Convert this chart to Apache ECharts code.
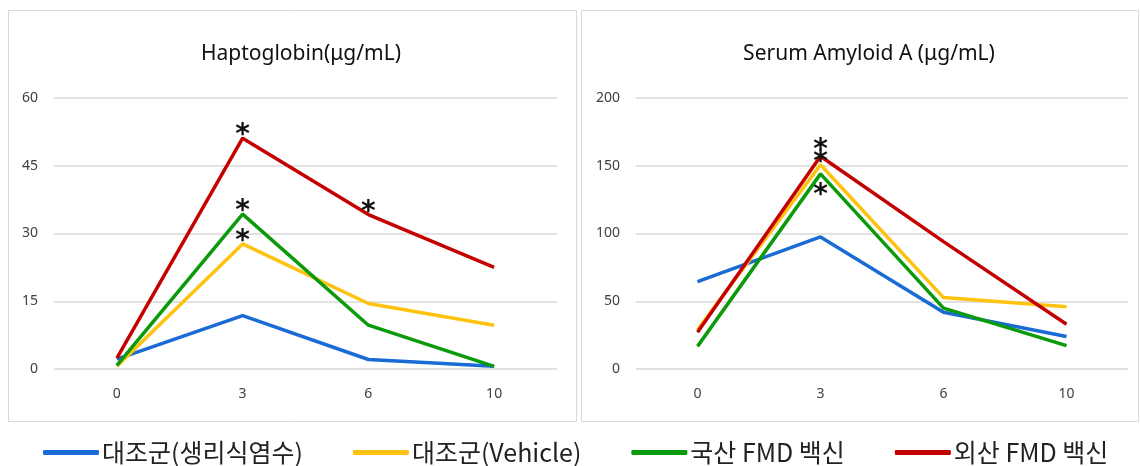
<!DOCTYPE html>
<html>
<head>
<meta charset="utf-8">
<script src="https://cdn.jsdelivr.net/npm/echarts@6/dist/echarts.min.js"></script>
<style>
html,body{margin:0;padding:0;background:#fff;}
#c{width:1140px;height:466px;}
</style>
</head>
<body>
<div id="c"></div>
<script>
// ---- data ----
const days = ['0', '3', '6', '10'];
const seriesNames = ['대조군(생리식염수)', '대조군(Vehicle)', '국산 FMD 백신', '외산 FMD 백신'];
const colors = ['#1A6BD6', '#FFC20E', '#0A9A0A', '#C50000'];

const haptoTitle = 'Haptoglobin(μg/mL)';
const haptoSaline = [2.2, 11.8, 2.1, 0.6];
const haptoVehicle = [0.6, 27.7, 14.5, 9.7];
const haptoDomestic = [0.8, 34.3, 9.7, 0.6];
const haptoForeign = [2.4, 51.1, 34.2, 22.5];
// significance marks ('top' / 'bottom' / '')
const haptoStarsVehicle = ['', 'top', '', ''];
const haptoStarsDomestic = ['', 'top', '', ''];
const haptoStarsForeign = ['', 'top', 'top', ''];

const saaTitle = 'Serum Amyloid A (μg/mL)';
const saaSaline = [64.5, 97.5, 41.9, 24];
const saaVehicle = [29, 150.7, 52.7, 46];
const saaDomestic = [16.7, 144, 44.9, 17.2];
const saaForeign = [27.2, 157, 94, 33];
const saaStarsVehicle = ['', 'top', '', ''];
const saaStarsDomestic = ['', 'bottom', '', ''];
const saaStarsForeign = ['', 'top', '', ''];

const noStars = ['', '', '', ''];

const chart = echarts.init(document.getElementById('c'));

function mk(name, color, values, stars, gi, starDist) {
  return {
    name: name,
    type: 'line',
    xAxisIndex: gi, yAxisIndex: gi,
    symbol: 'circle',
    symbolSize: 0.01,
    showSymbol: true,
    lineStyle: { color: color, width: 3.5 },
    itemStyle: { color: color },
    emphasis: { disabled: true },
    z: 2,
    data: values.map((v, i) => {
      if (!stars[i]) return v;
      return {
        value: v,
        label: {
          show: true, formatter: '*', position: stars[i],
          distance: stars[i] === 'top' ? starDist : 4,
          color: '#111', fontSize: 28, fontWeight: 'bold',
          fontFamily: 'DejaVu Sans',
          lineHeight: 28,
          offset: stars[i] === 'top' ? [0, 12] : [0, 4]
        }
      };
    })
  };
}

const labelFont = { color: '#404040', fontSize: 14, fontFamily: 'Noto Sans' };

const option = {
  animation: false,
  backgroundColor: '#fff',
  graphic: [
    { type: 'rect', shape: { x: 8.5, y: 10.5, width: 568, height: 411 }, style: { fill: 'none', stroke: '#d9d9d9', lineWidth: 1 }, z: -1 },
    { type: 'rect', shape: { x: 581.5, y: 10.5, width: 557, height: 411 }, style: { fill: 'none', stroke: '#d9d9d9', lineWidth: 1 }, z: -1 }
  ],
  title: [
    { text: haptoTitle, left: 296, top: 39, textAlign: 'center', textStyle: { fontSize: 21, fontWeight: 'normal', color: '#111', fontFamily: 'Noto Sans' } },
    { text: saaTitle, left: 864, top: 39, textAlign: 'center', textStyle: { fontSize: 21, fontWeight: 'normal', color: '#111', fontFamily: 'Noto Sans' } }
  ],
  legend: {
    left: 38, top: 435,
    itemWidth: 56, itemHeight: 5, itemGap: 50,
    icon: 'roundRect',
    textStyle: { fontSize: 25, color: '#222', fontFamily: 'Noto Sans CJK KR', padding: [0, 0, 0, -2] },
    data: seriesNames
  },
  grid: [
    { left: 54, right: 583, top: 98, bottom: 97 },
    { left: 636, right: 12, top: 98, bottom: 97 }
  ],
  xAxis: [0, 1].map(i => ({
    type: 'category', gridIndex: i, data: days, boundaryGap: true,
    axisLine: { show: false }, axisTick: { show: false },
    axisLabel: Object.assign({ margin: 18 }, labelFont)
  })),
  yAxis: [
    { type: 'value', gridIndex: 0, min: 0, max: 60, interval: 15,
      axisLine: { show: false }, axisTick: { show: false },
      axisLabel: Object.assign({ margin: 16 }, labelFont),
      splitLine: { lineStyle: { color: '#d9d9d9', width: 1.5 } } },
    { type: 'value', gridIndex: 1, min: 0, max: 200, interval: 50,
      axisLine: { show: false }, axisTick: { show: false },
      axisLabel: Object.assign({ margin: 16 }, labelFont),
      splitLine: { lineStyle: { color: '#d9d9d9', width: 1.5 } } }
  ],
  series: [
    mk(seriesNames[0], colors[0], haptoSaline, noStars, 0, 0),
    mk(seriesNames[1], colors[1], haptoVehicle, haptoStarsVehicle, 0, 0),
    mk(seriesNames[2], colors[2], haptoDomestic, haptoStarsDomestic, 0, 0),
    mk(seriesNames[3], colors[3], haptoForeign, haptoStarsForeign, 0, 0),
    mk(seriesNames[0], colors[0], saaSaline, noStars, 1, 0),
    mk(seriesNames[1], colors[1], saaVehicle, saaStarsVehicle, 1, 0),
    mk(seriesNames[2], colors[2], saaDomestic, saaStarsDomestic, 1, 0),
    mk(seriesNames[3], colors[3], saaForeign, saaStarsForeign, 1, 4)
  ]
};
chart.setOption(option);
</script>
</body>
</html>
